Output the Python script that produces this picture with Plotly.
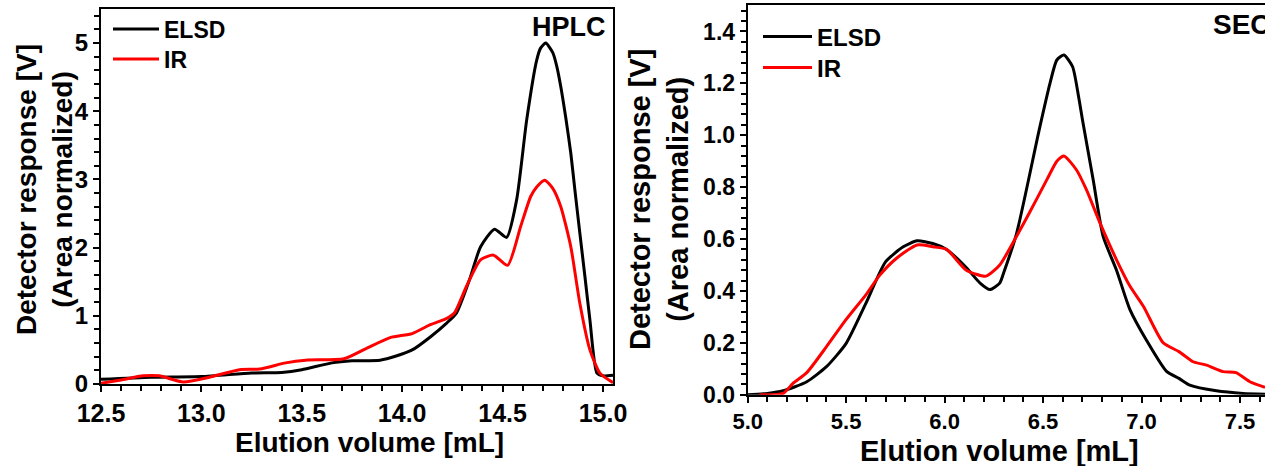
import plotly.graph_objects as go

W, H = 1265, 466

# ---------------- HPLC data ----------------
hplc_elsd_x = [12.50, 12.75, 13.00, 13.25, 13.40, 13.50, 13.65, 13.75, 13.89, 13.97, 14.05, 14.14,
               14.22, 14.27, 14.34, 14.39, 14.46, 14.52, 14.57, 14.62, 14.67, 14.69, 14.715, 14.75,
               14.77, 14.79, 14.815, 14.84, 14.86, 14.885, 14.91, 14.935, 14.97, 15.00, 15.05]
hplc_elsd_y = [0.07, 0.10, 0.11, 0.16, 0.17, 0.21, 0.31, 0.34, 0.35, 0.41, 0.50, 0.69,
               0.89, 1.04, 1.57, 2.01, 2.27, 2.15, 2.70, 3.87, 4.75, 4.93, 5.00, 4.86,
               4.66, 4.36, 3.90, 3.38, 2.85, 2.21, 1.58, 0.94, 0.16, 0.12, 0.13]

hplc_ir_x = [12.50, 12.60, 12.71, 12.79, 12.91, 13.04, 13.19, 13.29, 13.42, 13.52, 13.71, 13.82,
             13.94, 14.05, 14.14, 14.22, 14.26, 14.32, 14.39, 14.455, 14.525, 14.59, 14.64, 14.67,
             14.71, 14.75, 14.79, 14.84, 14.885, 14.935, 14.985, 15.05]
hplc_ir_y = [0.01, 0.06, 0.12, 0.12, 0.03, 0.10, 0.21, 0.22, 0.31, 0.35, 0.37, 0.52,
             0.68, 0.74, 0.87, 0.96, 1.04, 1.43, 1.82, 1.89, 1.74, 2.31, 2.75, 2.89,
             2.99, 2.87, 2.60, 2.01, 1.18, 0.50, 0.16, 0.02]

# ---------------- SEC data ----------------
sec_elsd_x = [5.00, 5.10, 5.18, 5.30, 5.40, 5.50, 5.60, 5.70, 5.79, 5.86, 5.94, 6.01, 6.11,
              6.18, 6.23, 6.28, 6.30, 6.365, 6.48, 6.535, 6.57, 6.606, 6.65, 6.68, 6.70, 6.754,
              6.805, 6.873, 6.94, 7.025, 7.127, 7.19, 7.245, 7.38, 7.515, 7.627]
sec_elsd_y = [0.0, 0.005, 0.015, 0.05, 0.108, 0.198, 0.352, 0.512, 0.57, 0.593, 0.583, 0.56, 0.49,
              0.43, 0.405, 0.43, 0.47, 0.62, 1.02, 1.20, 1.29, 1.309, 1.264, 1.15, 1.06, 0.83,
              0.61, 0.48, 0.33, 0.21, 0.09, 0.063, 0.037, 0.015, 0.005, 0.002]

sec_ir_x = [5.06, 5.18, 5.23, 5.30, 5.40, 5.50, 5.60, 5.67, 5.756, 5.86, 5.94, 6.01, 6.11,
            6.21, 6.28, 6.365, 6.43, 6.52, 6.57, 6.606, 6.67, 6.72, 6.79, 6.873, 6.94, 7.01,
            7.11, 7.19, 7.262, 7.33, 7.414, 7.48, 7.55, 7.627]
sec_ir_y = [0.0, 0.005, 0.044, 0.085, 0.185, 0.29, 0.385, 0.46, 0.526, 0.577, 0.57, 0.56, 0.48,
            0.457, 0.50, 0.61, 0.70, 0.83, 0.90, 0.92, 0.866, 0.79, 0.66, 0.52, 0.42, 0.34,
            0.20, 0.166, 0.127, 0.114, 0.089, 0.085, 0.05, 0.028]

FONT = "Arial, Liberation Sans, sans-serif"

fig = go.Figure()
fig.add_trace(go.Scatter(x=hplc_elsd_x, y=hplc_elsd_y, name="ELSD", mode="lines",
                         line=dict(color="black", width=3, shape="spline", smoothing=0.6),
                         xaxis="x", yaxis="y", legend="legend"))
fig.add_trace(go.Scatter(x=hplc_ir_x, y=hplc_ir_y, name="IR", mode="lines",
                         line=dict(color="#ff0000", width=3, shape="spline", smoothing=0.6),
                         xaxis="x", yaxis="y", legend="legend2"))
fig.add_trace(go.Scatter(x=sec_elsd_x, y=sec_elsd_y, name="ELSD", mode="lines",
                         line=dict(color="black", width=3, shape="spline", smoothing=0.6),
                         xaxis="x2", yaxis="y2", legend="legend3"))
fig.add_trace(go.Scatter(x=sec_ir_x, y=sec_ir_y, name="IR", mode="lines",
                         line=dict(color="#ff0000", width=3, shape="spline", smoothing=0.6),
                         xaxis="x2", yaxis="y2", legend="legend4"))


def px(x):
    return x / W


def py(y):
    return 1 - y / H


axis_common = dict(showline=True, linecolor="black", linewidth=2, ticks="outside",
                   tickcolor="black", tickwidth=2, ticklen=6, showgrid=False, zeroline=False,
                   automargin=False)


def leg(x0, yc, size, iw):
    return dict(x=px(x0), y=py(yc), xanchor="left", yanchor="middle",
                font=dict(size=size, family=FONT, weight="bold"), bgcolor="rgba(0,0,0,0)",
                borderwidth=0, itemwidth=iw, tracegroupgap=0)


fig.update_layout(
    template="none",
    width=W, height=H, autosize=False,
    margin=dict(l=0, r=0, t=0, b=0, pad=0),
    paper_bgcolor="white", plot_bgcolor="white",
    font=dict(family=FONT, color="black", weight="bold"),
    xaxis=dict(domain=[px(101), px(613)], range=[12.5, 15.05], anchor="y", mirror=True,
               tickvals=[12.5, 13.0, 13.5, 14.0, 14.5, 15.0], tickformat=".1f",
               tickfont=dict(size=25, family=FONT, weight="bold"),
               minor=dict(dtick=0.1, tick0=12.5, ticks="outside", ticklen=5, tickwidth=1.5,
                          tickcolor="black"),
               **axis_common),
    yaxis=dict(domain=[py(384), py(9)], range=[0, 5.5], anchor="x", mirror=True,
               tickvals=[0, 1, 2, 3, 4, 5],
               tickfont=dict(size=24, family=FONT, weight="bold"),
               minor=dict(dtick=0.2, tick0=0, ticks="outside", ticklen=5, tickwidth=1.5,
                          tickcolor="black"),
               **axis_common),
    xaxis2=dict(domain=[px(747.7), 1.0], range=[5.0, 7.627], anchor="y2", mirror=True,
                tickvals=[5.0, 5.5, 6.0, 6.5, 7.0, 7.5], tickformat=".1f",
                tickfont=dict(size=22, family=FONT, weight="bold"),
                minor=dict(dtick=0.1, tick0=5.0, ticks="outside", ticklen=5, tickwidth=1.5,
                           tickcolor="black"),
                **axis_common),
    yaxis2=dict(domain=[py(394.7), py(5)], range=[0, 1.502], anchor="x2", mirror=False,
                tickvals=[0, 0.2, 0.4, 0.6, 0.8, 1.0, 1.2, 1.4], tickformat=".1f",
                tickfont=dict(size=23, family=FONT, weight="bold"),
                minor=dict(dtick=0.04, tick0=0, ticks="outside", ticklen=5, tickwidth=1.5,
                           tickcolor="black"),
                **axis_common),
    legend=leg(108, 29, 23, 46),
    legend2=leg(108, 59, 23, 46),
    legend3=leg(758, 37, 24, 49),
    legend4=leg(758, 68, 24, 49),
    showlegend=True,
)

annotations = [
    dict(text="HPLC", x=px(608), y=py(27), xanchor="right", yanchor="middle",
         font=dict(size=27, family=FONT, weight="bold")),
    dict(text="SEC", x=px(1211), y=py(25), xanchor="left", yanchor="middle",
         font=dict(size=28, family=FONT, weight="bold")),
    dict(text="Elution volume [mL]", x=px(370), y=py(442), xanchor="center", yanchor="middle",
         font=dict(size=28, family=FONT, weight="bold")),
    dict(text="Elution volume [mL]", x=px(999), y=py(451), xanchor="center", yanchor="middle",
         font=dict(size=29, family=FONT, weight="bold")),
    dict(text="Detector response [V]<br>(Area normalized)", x=px(44), y=py(190),
         xanchor="center", yanchor="middle", textangle=-90,
         font=dict(size=28, family=FONT, weight="bold")),
    dict(text="Detector response [V]<br>(Area normalized)", x=px(659), y=py(200),
         xanchor="center", yanchor="middle", textangle=-90,
         font=dict(size=29, family=FONT, weight="bold")),
]
for a in annotations:
    a.update(xref="paper", yref="paper", showarrow=False)
fig.update_layout(annotations=annotations)

fig.write_html("out.html")
